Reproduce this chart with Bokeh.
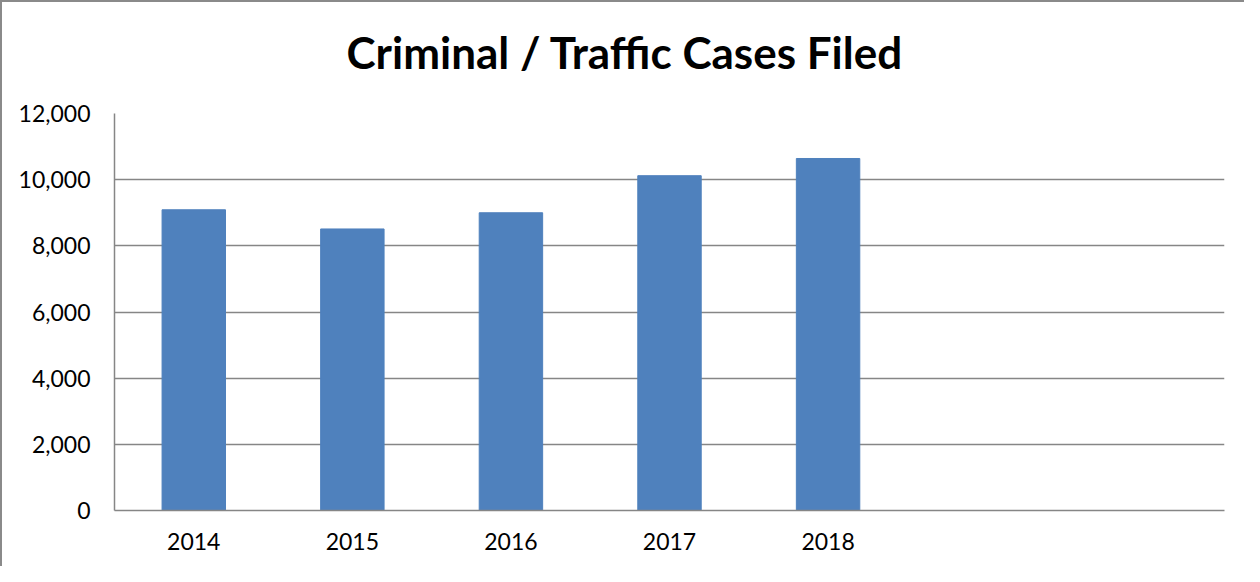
from bokeh.plotting import figure
from bokeh.models import ColumnDataSource, FactorRange, Range1d, NumeralTickFormatter, FixedTicker, Title
from bokeh.embed import file_html
from bokeh.resources import INLINE

years = ["2014", "2015", "2016", "2017", "2018"]
blank_slots = [" ", "  "]
cases = [9090, 8510, 9000, 10120, 10640]
y_ticks = [0, 2000, 4000, 6000, 8000, 10000, 12000]
title_text = "Criminal / Traffic Cases Filed"

FONT = "Lato"
GRAY = "#868686"

src = ColumnDataSource(data=dict(year=years, cases=cases))

p = figure(
    width=1244, height=566,
    x_range=FactorRange(factors=years + blank_slots, range_padding=0),
    y_range=Range1d(0, 12000),
    output_backend="svg", toolbar_location=None,
    min_border_left=112, min_border_right=22, min_border_top=111, min_border_bottom=58,
)
p.styles = {"border-left": "2px solid #8a8a8a", "border-top": "2px solid #8a8a8a"}

p.vbar(x="year", top="cases", width=0.4, source=src,
       fill_color="#4F81BD", line_color="#4F81BD", line_width=1)

# main title (outermost)
p.title.text = title_text
p.title.align = "left"
p.title.offset = 232
p.title.standoff = 0
p.title.text_font = FONT
p.title.text_font_size = "44px"
p.title.text_font_style = "bold"
p.title.text_color = "black"

# spacer between title and plot frame
spacer = Title(text=" ", text_font_size="10px", standoff=23)
p.add_layout(spacer, "above")

p.outline_line_color = None
p.xgrid.grid_line_color = None
p.ygrid.grid_line_color = GRAY
p.ygrid.grid_line_width = 1.5
p.yaxis.ticker = FixedTicker(ticks=y_ticks)
p.yaxis.formatter = NumeralTickFormatter(format="0,0")

for ax in (p.xaxis[0], p.yaxis[0]):
    ax.axis_line_color = GRAY
    ax.axis_line_width = 1.5
    ax.major_tick_line_color = None
    ax.minor_tick_line_color = None
    ax.major_label_text_font = FONT
    ax.major_label_text_font_size = "23px"
    ax.major_label_text_color = "black"

p.yaxis.major_label_standoff = 18
p.xaxis.major_label_standoff = 10

open("out.html", "w").write(file_html(p, INLINE))
